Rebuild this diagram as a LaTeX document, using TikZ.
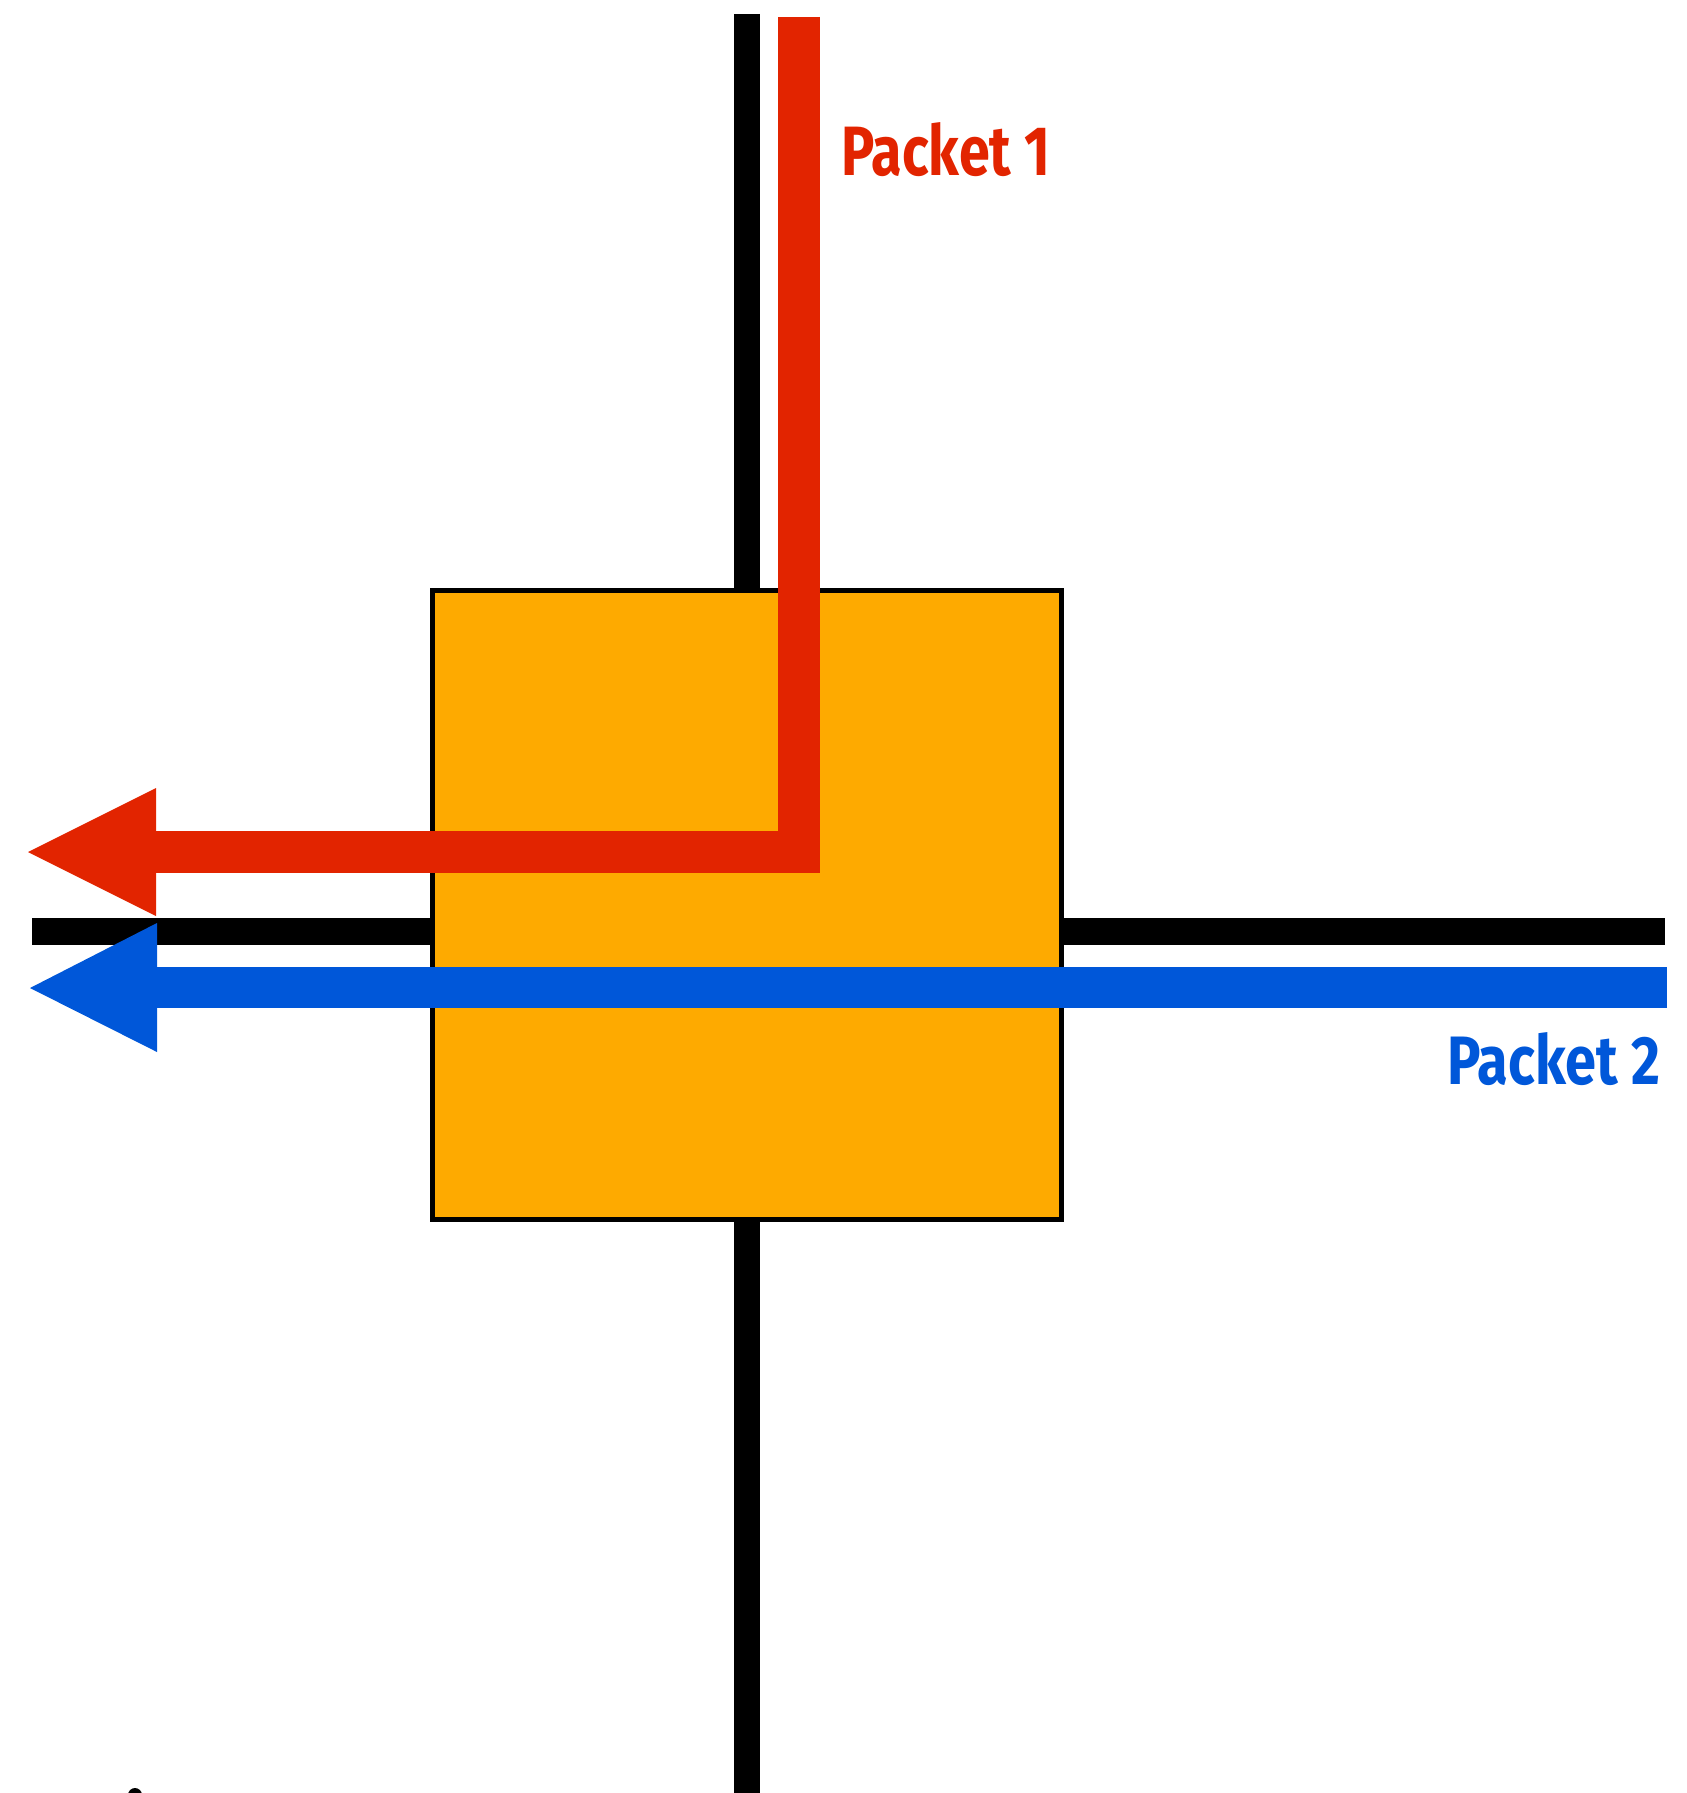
\documentclass[tikz,border=0pt]{standalone}
\usepackage{fontspec}
\newfontfamily\labelfont{Fira Sans}
\definecolor{pktred}{RGB}{226,36,0}
\definecolor{pktblue}{RGB}{0,87,217}
\definecolor{swfill}{RGB}{254,170,0}
\tikzset{
  wire/.style={line width=26.5pt, black, line cap=butt},
  pktline/.style={line width=42pt, line cap=butt, line join=miter},
  switchbox/.style={draw=black, line width=5pt, fill=swfill, inner sep=0pt, minimum width=629pt, minimum height=629pt},
  pktlabel/.style={inner sep=0pt, anchor=south west, font=\labelfont\bfseries}
}
\begin{document}
\begin{tikzpicture}[x=1pt,y=-1pt]
\useasboundingbox (0,0) rectangle (1686,1793);
% black links
\coordinate (vTop) at (747,14);
\coordinate (vBot) at (747,1793);
\coordinate (hLeft) at (32,931.5);
\coordinate (hRight) at (1665,931.5);
\draw[wire] (vTop) -- (vBot);
\draw[wire] (hLeft) -- (hRight);
% switch
\node[switchbox] (sw) at (747,905) {};
% packet 1
\coordinate (r1) at (799,17);
\coordinate (r2) at (799,852);
\coordinate (r3) at (150,852);
\coordinate (rtip) at (28,852);
\coordinate (rh1) at (156,788);
\coordinate (rh2) at (156,916);
\draw[pktline, pktred] (r1) -- (r2) -- (r3);
\fill[pktred] (rtip) -- (rh1) -- (rh2) -- cycle;
% packet 2
\coordinate (b1) at (1667,987.5);
\coordinate (b2) at (150,987.5);
\coordinate (btip) at (30,988);
\coordinate (bh1) at (157,923);
\coordinate (bh2) at (157,1052);
\draw[pktline, line width=41pt, pktblue] (b1) -- (b2);
\fill[pktblue] (btip) -- (bh1) -- (bh2) -- cycle;
% labels
\node[pktlabel, text=pktred] (lab1) at (841,177) {\resizebox{209pt}{53pt}{Packet 1}};
\node[pktlabel, text=pktblue] (lab2) at (1447,1086) {\resizebox{213pt}{52pt}{Packet 2}};
% dot at bottom
\node[circle, fill=black, inner sep=0pt, minimum size=14pt] (dot) at (135,1795) {};
\end{tikzpicture}
\end{document}
